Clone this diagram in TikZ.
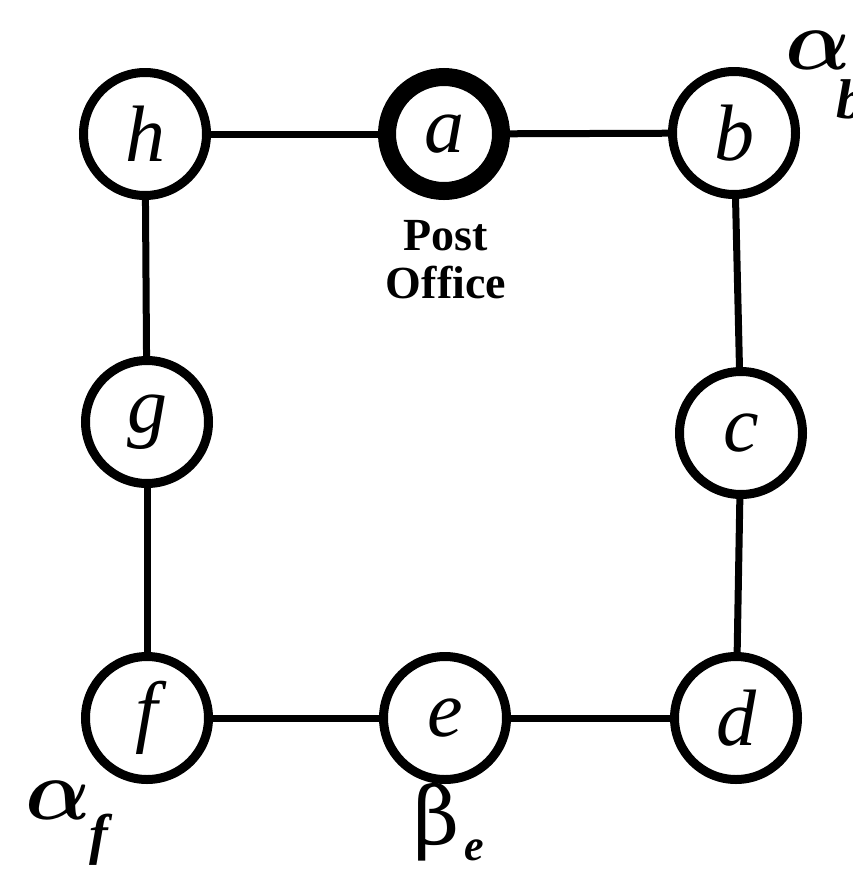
\documentclass[tikz,border=0pt]{standalone}
\usepackage{fontspec}
\setmainfont{Liberation Serif}
\newfontfamily\greekfont{DejaVu Serif}
\newcommand{\bigalpha}{\scalebox{8.6}{\boldmath$\alpha$}}
\begin{document}
\begin{tikzpicture}[x=1pt,y=-1pt,
  vertex/.style={circle,draw=black,line width=9pt,fill=white,minimum size=123pt,inner sep=0pt,
    font=\fontsize{80}{80}\selectfont\itshape},
  office/.style={vertex,line width=18pt,minimum size=114pt},
  edge/.style={line width=7pt},
  caption/.style={font=\fontsize{46}{48}\selectfont\bfseries,align=center,inner sep=0pt},
  greek/.style={font=\fontsize{80}{80}\greekfont,inner sep=0pt},
  alphasym/.style={inner sep=0pt},
  sub/.style={font=\fontsize{56}{56}\selectfont\itshape\bfseries,inner sep=0pt}]
\useasboundingbox (0,0) rectangle (852,873);
% vertices of the route
\node[vertex] (h) at (145,134) {h};
\node[office] (a) at (444,134) {a};
\node[vertex] (b) at (734,133) {b};
\node[vertex] (c) at (741,433) {c};
\node[vertex] (d) at (736,718) {d};
\node[vertex] (e) at (445,718) {e};
\node[vertex] (f) at (147,718) {f};
\node[vertex] (g) at (147,422) {g};
% streets
\draw[edge] (h) -- (a);
\draw[edge] (a) -- (b);
\draw[edge] (b) -- (c);
\draw[edge] (c) -- (d);
\draw[edge] (d) -- (e);
\draw[edge] (e) -- (f);
\draw[edge] (f) -- (g);
\draw[edge] (g) -- (h);
% labels
\node[caption] (po) at (446,260) {Post\\Office};
\node[alphasym] (ab) at (818,50) {\bigalpha};
\node[sub] (bsub) at (850,99) {b};
\node[alphasym] (af) at (58,800) {\bigalpha};
\node[sub] (fsub) at (99,840) {f};
\node[greek] (be) at (437,822) {β};
\node[sub,font=\fontsize{44}{44}\selectfont\itshape\bfseries] (esub) at (474,850) {e};
\end{tikzpicture}
\end{document}
